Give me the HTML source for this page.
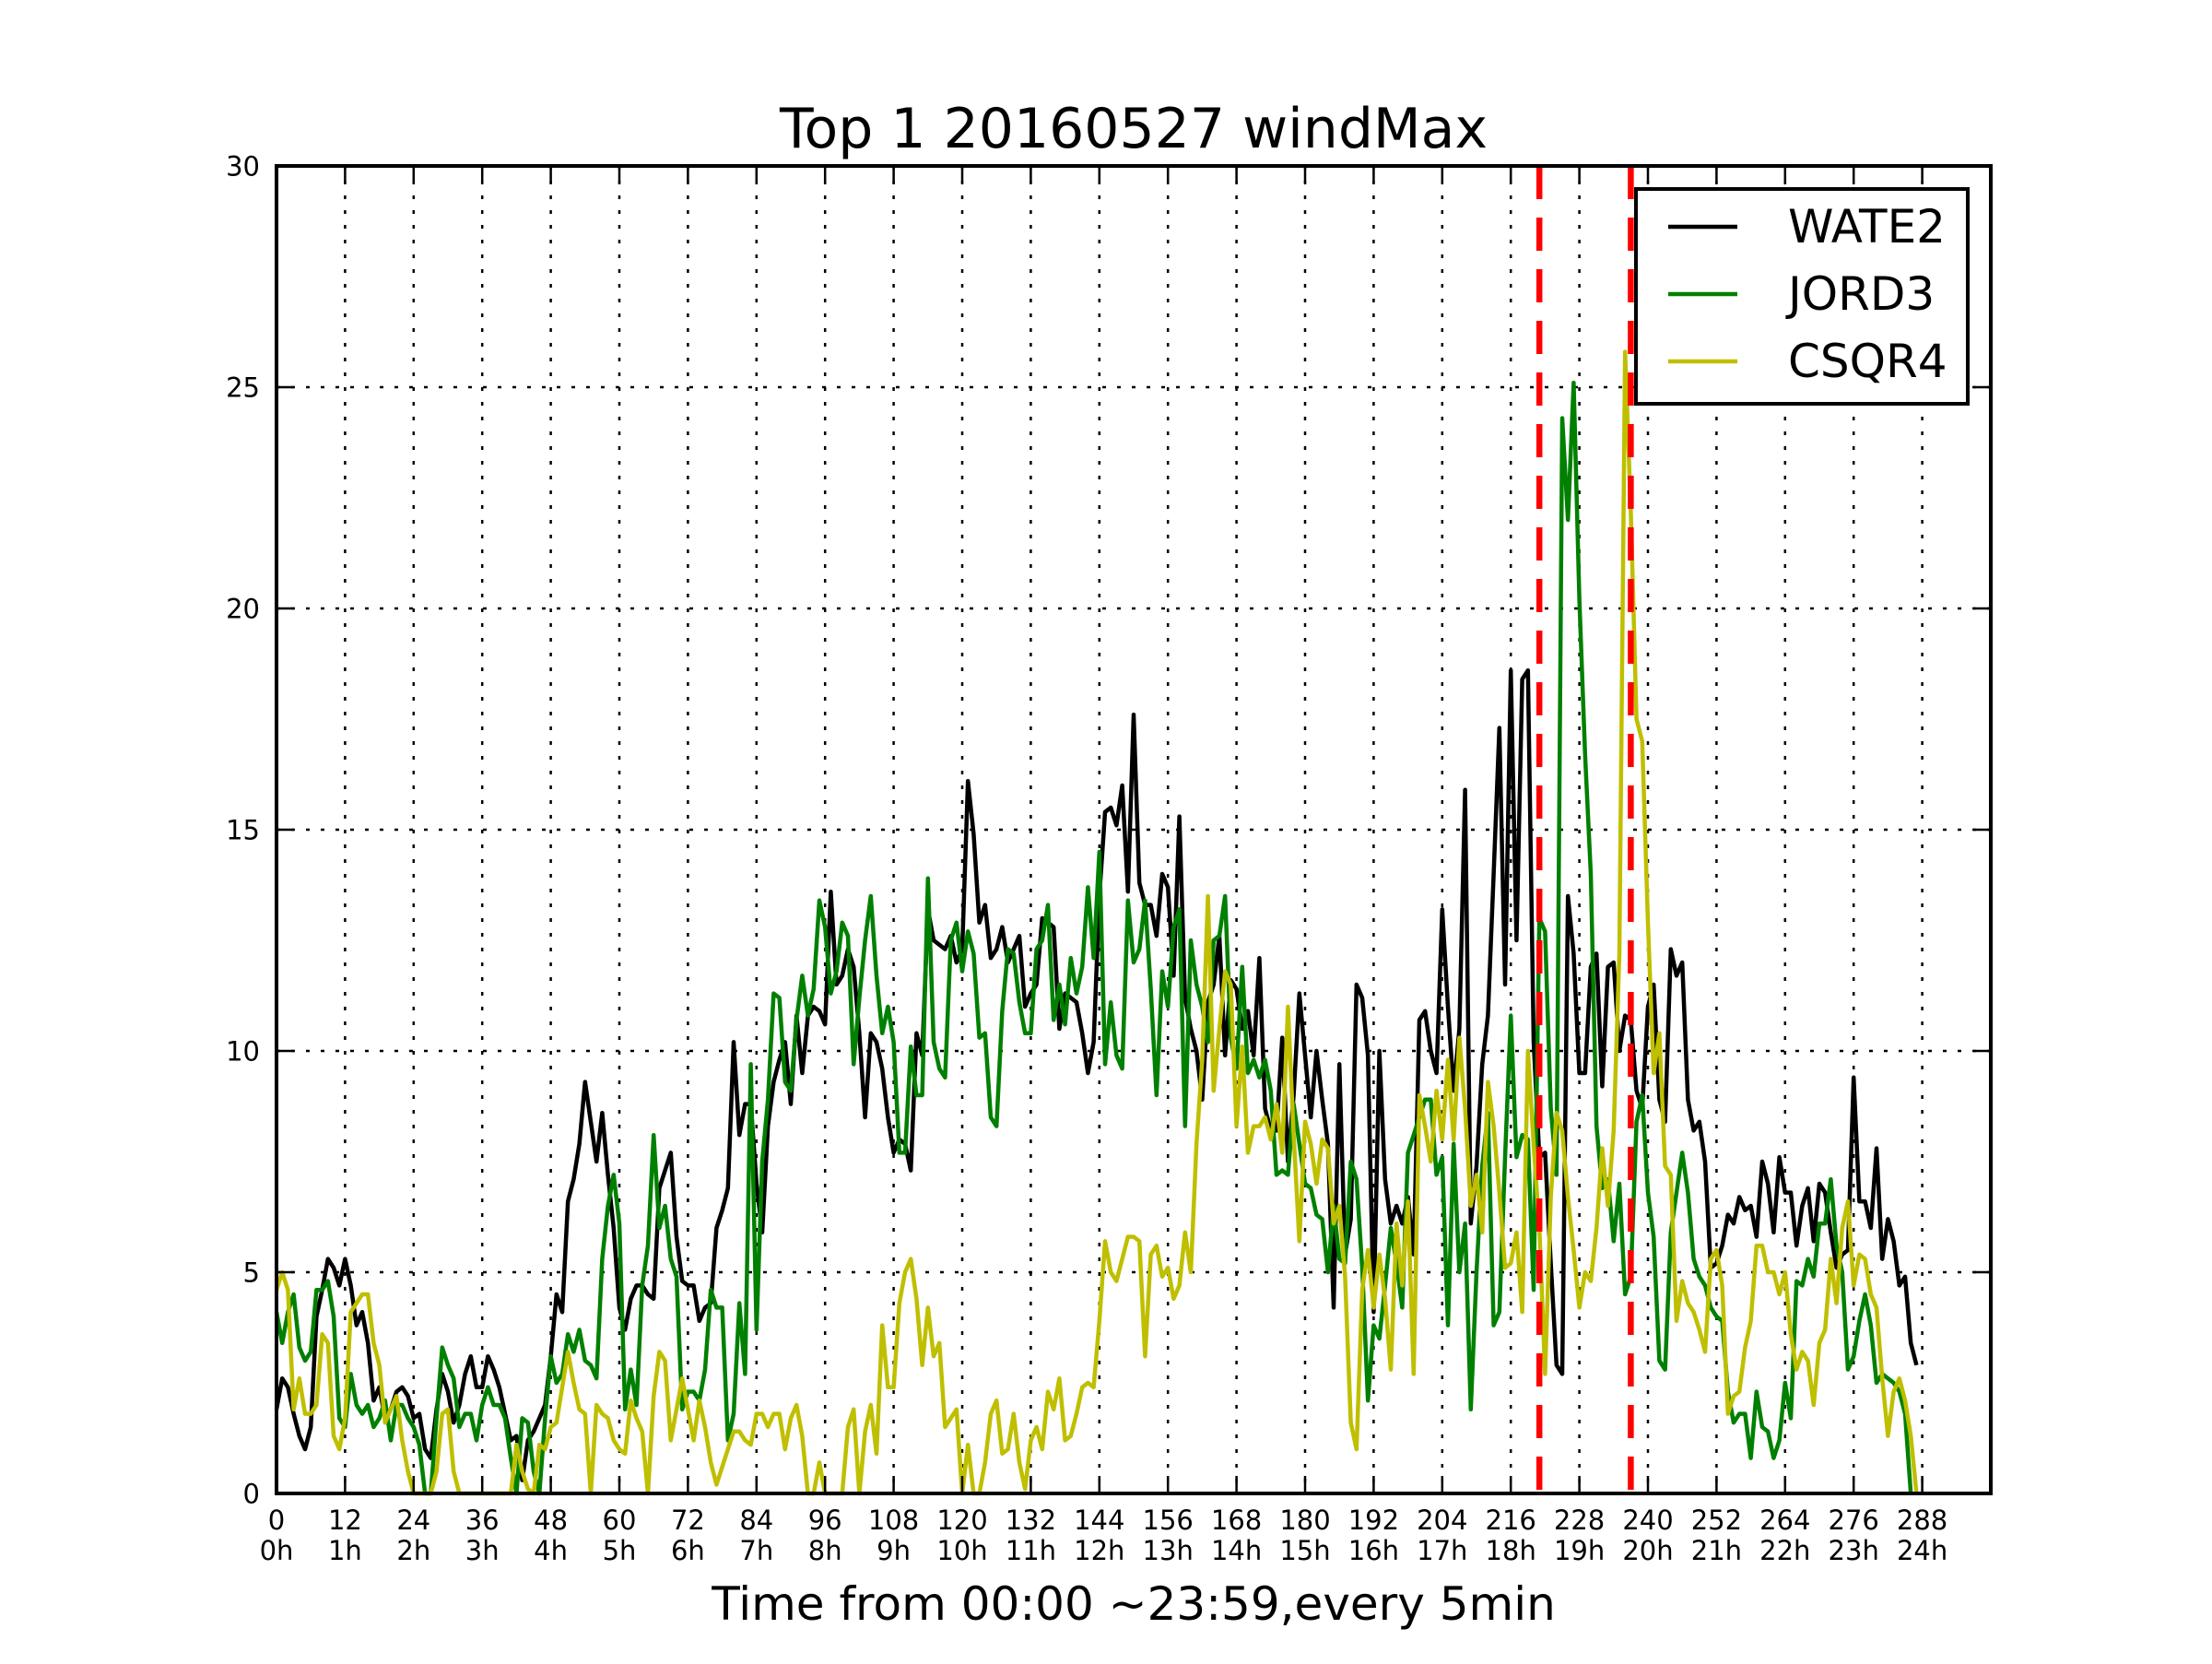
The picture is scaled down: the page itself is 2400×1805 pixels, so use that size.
<!DOCTYPE html>
<html><head><meta charset="utf-8"><style>
html,body{margin:0;padding:0;background:#fff;}
svg text{font-family:"DejaVu Sans","Liberation Sans",sans-serif;}
</style></head><body>
<svg id="chart" width="2400" height="1800" viewBox="0 0 2400 1800" xmlns="http://www.w3.org/2000/svg">
<rect x="0" y="0" width="2400" height="1800" fill="#fff"/>
<g id="grid"></g>
<g id="series"></g>
<g id="axes"></g>
<text x="1230" y="160" font-size="60" text-anchor="middle">Top 1 20160527 windMax</text>
<text x="1230" y="1757" font-size="50" text-anchor="middle">Time from 00:00 ~23:59,every 5min</text>
<g id="legend"></g>
</svg>
<script>
const xTicks = [0,12,24,36,48,60,72,84,96,108,120,132,144,156,168,180,192,204,216,228,240,252,264,276,288];
const xHourLabels = ["0h","1h","2h","3h","4h","5h","6h","7h","8h","9h","10h","11h","12h","13h","14h","15h","16h","17h","18h","19h","20h","21h","22h","23h","24h"];
const yTicks = [0,5,10,15,20,25,30];
const markers = [221,237];
const seriesNames = ["WATE2","JORD3","CSQR4"];
const wate2 = [1.9,2.6,2.4,1.8,1.3,1.0,1.5,4.0,4.6,5.3,
5.1,4.7,5.3,4.7,3.8,4.1,3.4,2.1,2.4,1.7,
1.9,2.3,2.4,2.2,1.7,1.8,1.0,0.8,1.9,2.7,
2.3,1.6,2.0,2.7,3.1,2.4,2.4,3.1,2.8,2.4,
1.8,1.2,1.3,0.3,1.2,1.4,1.7,2.0,3.1,4.5,
4.1,6.6,7.1,7.9,9.3,8.4,7.5,8.6,7.2,6.0,
4.2,3.7,4.4,4.7,4.7,4.5,4.4,6.9,7.3,7.7,
5.8,4.8,4.7,4.7,3.9,4.2,4.3,6.0,6.4,6.9,
10.2,8.1,8.8,8.8,7.0,5.9,8.3,9.3,9.8,10.2,
8.8,10.8,9.5,10.8,11.0,10.9,10.6,13.6,11.5,11.7,
12.3,11.9,10.4,8.5,10.4,10.2,9.6,8.5,7.7,8.0,
7.9,7.3,10.4,9.9,13.2,12.5,12.4,12.3,12.6,12.0,
12.3,16.1,14.9,12.9,13.3,12.1,12.3,12.8,12.0,12.3,
12.6,11.0,11.3,11.5,13.0,12.9,12.8,10.5,11.3,11.2,
11.1,10.4,9.5,10.2,13.5,15.4,15.5,15.1,16.0,13.6,
17.6,13.8,13.3,13.3,12.6,14.0,13.7,11.7,15.3,11.2,
10.5,10.0,8.9,11.1,11.5,12.6,9.9,11.6,11.4,10.5,
10.9,9.9,12.1,8.7,8.2,8.2,10.3,7.5,9.0,11.3,
9.9,8.5,10.0,8.9,7.9,4.2,9.7,5.4,6.2,11.5,
11.2,9.9,4.1,10.0,7.1,6.1,6.5,6.1,6.7,5.4,
10.7,10.9,10.0,9.5,13.2,11.0,9.1,10.5,15.9,6.1,
7.4,9.7,10.8,14.0,17.3,11.5,18.6,12.5,18.4,18.6,
10.2,7.6,7.7,5.2,2.9,2.7,13.5,12.2,9.5,9.5,
11.9,12.2,9.2,11.9,12.0,10.0,10.8,10.7,9.1,8.7,
11.0,11.5,8.9,8.4,12.3,11.7,12.0,8.9,8.2,8.4,
7.5,5.1,5.2,5.6,6.3,6.1,6.7,6.4,6.5,5.8,
7.5,7.0,5.9,7.6,6.8,6.8,5.6,6.5,6.9,5.7,
7.0,6.8,5.9,5.1,5.4,5.5,9.4,6.6,6.6,6.0,
7.8,5.3,6.2,5.7,4.7,4.9,3.4,2.9];
const jord3 = [4.1,3.4,4.1,4.5,3.3,3.0,3.2,4.6,4.6,4.8,
4.0,1.7,1.5,2.7,2.0,1.8,2.0,1.5,1.7,2.1,
1.2,2.0,2.0,1.7,1.5,1.1,0,0,1.7,3.3,
2.9,2.6,1.5,1.8,1.8,1.2,2.0,2.4,2.0,2.0,
1.7,0.8,0,1.7,1.6,0.5,0,1.7,3.1,2.5,
2.7,3.6,3.2,3.7,3.0,2.9,2.6,5.3,6.5,7.2,
6.1,1.9,2.8,2.0,4.7,5.6,8.1,6.0,6.5,5.3,
4.9,1.9,2.3,2.3,2.1,2.8,4.6,4.2,4.2,1.2,
1.8,4.3,2.7,9.7,3.7,7.5,8.9,11.3,11.2,9.3,
9.1,10.7,11.7,10.8,11.4,13.4,12.8,11.3,11.8,12.9,
12.6,9.7,11.2,12.5,13.5,11.7,10.4,11.0,10.2,7.7,
7.7,10.1,9.0,9.0,13.9,10.2,9.6,9.4,12.5,12.9,
11.8,12.7,12.2,10.3,10.4,8.5,8.3,10.9,12.3,12.2,
11.1,10.4,10.4,12.3,12.5,13.3,10.7,11.5,10.6,12.1,
11.3,11.9,13.7,12.1,14.5,9.7,11.1,9.9,9.6,13.4,
12.0,12.3,13.4,11.4,9.0,11.8,11.0,12.8,13.2,8.3,
12.5,11.5,11.0,10.2,12.5,12.6,13.5,10.3,9.6,11.9,
9.5,9.8,9.4,9.8,9.1,7.2,7.3,7.2,8.8,7.9,
7.0,6.9,6.3,6.2,5.0,6.5,5.3,5.2,7.5,7.1,
5.1,2.1,3.8,3.5,4.7,6.0,5.2,4.2,7.7,8.1,
8.5,8.9,8.9,7.2,7.6,3.8,7.9,5.0,6.1,1.9,
5.0,7.4,8.6,3.8,4.1,7.6,10.8,7.6,8.1,8.0,
4.6,13.0,12.7,8.7,7.2,24.3,22.0,25.1,20.2,16.7,
14.0,8.3,6.9,7.1,5.7,7.0,4.5,4.9,8.4,9.0,
6.8,5.8,3.0,2.8,5.9,6.8,7.7,6.8,5.3,4.9,
4.7,4.2,4.0,3.9,2.3,1.6,1.8,1.8,0.8,2.3,
1.5,1.4,0.8,1.2,2.5,1.7,4.8,4.7,5.3,4.9,
6.1,6.1,7.1,5.6,5.0,2.8,3.1,3.9,4.5,3.8,
2.5,2.7,2.6,2.5,2.3,1.8,0];
const csqr4 = [4.6,5.0,4.6,1.9,2.6,1.8,1.8,2.0,3.6,3.4,
1.3,1.0,1.7,4.1,4.3,4.5,4.5,3.4,2.9,1.6,
1.9,2.2,1.2,0.5,0,0,0,0,0.5,1.8,
1.9,0.5,0,0,0,0,0,0,0,0,
0,0,1.1,0.5,0.1,0,1.1,1.0,1.5,1.6,
2.4,3.2,2.5,1.9,1.8,0,2.0,1.8,1.7,1.2,
1.0,0.9,2.1,1.7,1.4,0,2.2,3.2,3.0,1.2,
1.9,2.6,1.9,1.2,2.1,1.5,0.7,0.2,0.6,1.0,
1.4,1.4,1.2,1.1,1.8,1.8,1.5,1.8,1.8,1.0,
1.7,2.0,1.3,0,0,0.7,0,0,0,0,
1.5,1.9,0,1.4,2.0,0.9,3.8,2.4,2.4,4.3,
5.0,5.3,4.4,2.9,4.2,3.1,3.4,1.5,1.7,1.9,
0,1.1,0,0,0.7,1.8,2.1,0.9,1.0,1.8,
0.7,0.1,1.2,1.5,1.0,2.3,1.9,2.6,1.2,1.3,
1.8,2.4,2.5,2.4,3.9,5.7,5.0,4.8,5.3,5.8,
5.8,5.7,3.1,5.4,5.6,4.9,5.1,4.4,4.7,5.9,
5.0,7.9,9.8,13.5,9.1,10.5,11.8,11.5,8.3,10.1,
7.7,8.3,8.3,8.5,8.0,8.8,7.7,11.0,8.1,5.7,
8.4,7.9,7.0,8.0,7.8,6.1,6.5,4.9,1.6,1.0,
4.6,5.5,4.2,5.4,4.4,2.8,6.1,4.7,6.6,2.7,
9.0,8.3,7.5,9.1,8.0,9.8,8.0,10.3,8.7,6.5,
7.2,5.9,9.3,8.3,6.8,5.1,5.2,5.9,4.1,10.0,
7.9,6.0,2.7,6.7,8.6,8.2,6.7,5.5,4.2,5.0,
4.8,6.0,7.8,6.5,8.2,12.2,25.8,22.2,17.5,17.0,
12.9,9.5,10.4,7.4,7.2,3.9,4.8,4.3,4.1,3.7,
3.2,5.3,5.5,4.7,1.8,2.2,2.3,3.3,3.9,5.6,
5.6,5.0,5.0,4.5,5.0,3.6,2.8,3.2,3.0,2.0,
3.4,3.7,5.3,4.3,6.0,6.6,4.7,5.4,5.3,4.5,
4.2,2.6,1.3,2.3,2.6,2.1,1.3,0];

const NS = "http://www.w3.org/2000/svg";
const L = 300, R = 2160, T = 180, B = 1620;
const xMin = 0, xMax = 300, yMin = 0, yMax = 30;
function xs(v){ return L + (v - xMin) / (xMax - xMin) * (R - L); }
function ys(v){ return B - (v - yMin) / (yMax - yMin) * (B - T); }
function mk(tag, attrs, parent){
  const e = document.createElementNS(NS, tag);
  for (const k in attrs) e.setAttribute(k, attrs[k]);
  parent.appendChild(e);
  return e;
}
const grid = document.getElementById('grid');
const axes = document.getElementById('axes');
const series = document.getElementById('series');
const legend = document.getElementById('legend');

xTicks.forEach((t, i) => {
  const x = xs(t);
  const g = mk('line', {x1:x, x2:x, y1:T, y2:B, stroke:'#000', 'stroke-width':2.5, 'stroke-dasharray':'4,12'}, grid);
  
  
  const tb = mk('line', {x1:x, x2:x, y1:B, y2:B-19, stroke:'#000', 'stroke-width':2.5}, axes);
  
  
  const tt = mk('line', {x1:x, x2:x, y1:T, y2:T+19, stroke:'#000', 'stroke-width':2.5}, axes);
  
  
  const l1 = mk('text', {x:x, y:1659, 'font-size':29, 'text-anchor':'middle'}, axes);
  l1.textContent = String(t);
  
  
  const l2 = mk('text', {x:x, y:1692, 'font-size':29, 'text-anchor':'middle'}, axes);
  l2.textContent = xHourLabels[i];
  
  
});
yTicks.forEach(t => {
  const y = ys(t);
  const g = mk('line', {x1:L, x2:R, y1:y, y2:y, stroke:'#000', 'stroke-width':2.5, 'stroke-dasharray':'4,12'}, grid);
  
  
  const tl = mk('line', {x1:L, x2:L+19, y1:y, y2:y, stroke:'#000', 'stroke-width':2.5}, axes);
  
  
  const tr = mk('line', {x1:R-19, x2:R, y1:y, y2:y, stroke:'#000', 'stroke-width':2.5}, axes);
  
  
  const lb = mk('text', {x:282, y:y+10.5, 'font-size':29, 'text-anchor':'end'}, axes);
  lb.textContent = String(t);
  
  
});

const colors = ['#000000', '#008000', '#bfbf00'];
[wate2, jord3, csqr4].forEach((arr, k) => {
  const pts = arr.map((v, i) => xs(i).toFixed(1) + ',' + ys(v).toFixed(1)).join(' ');
  const p = mk('polyline', {points:pts, fill:'none', stroke:colors[k], 'stroke-width':4.5, 'stroke-linejoin':'round'}, series);
  
  
});
markers.forEach(m => {
  const x = xs(m);
  const r = mk('line', {x1:x, x2:x, y1:T, y2:B, stroke:'#ff0000', 'stroke-width':6.5, 'stroke-dasharray':'36,20'}, series);
  
  
});

const frame = mk('rect', {x:L, y:T, width:R-L, height:B-T, fill:'none', stroke:'#000', 'stroke-width':4}, axes);



const box = mk('rect', {x:1775, y:205, width:360, height:233, fill:'#fff', stroke:'#000', 'stroke-width':4}, legend);


const ly = [246, 319, 392];
seriesNames.forEach((n, k) => {
  const ln = mk('line', {x1:1810, x2:1885, y1:ly[k], y2:ly[k], stroke:colors[k], 'stroke-width':4.5}, legend);
  
  
  const tx = mk('text', {x:1940, y:ly[k]+17, 'font-size':50}, legend);
  tx.textContent = n;
  
  
});
</script>
</body></html>
